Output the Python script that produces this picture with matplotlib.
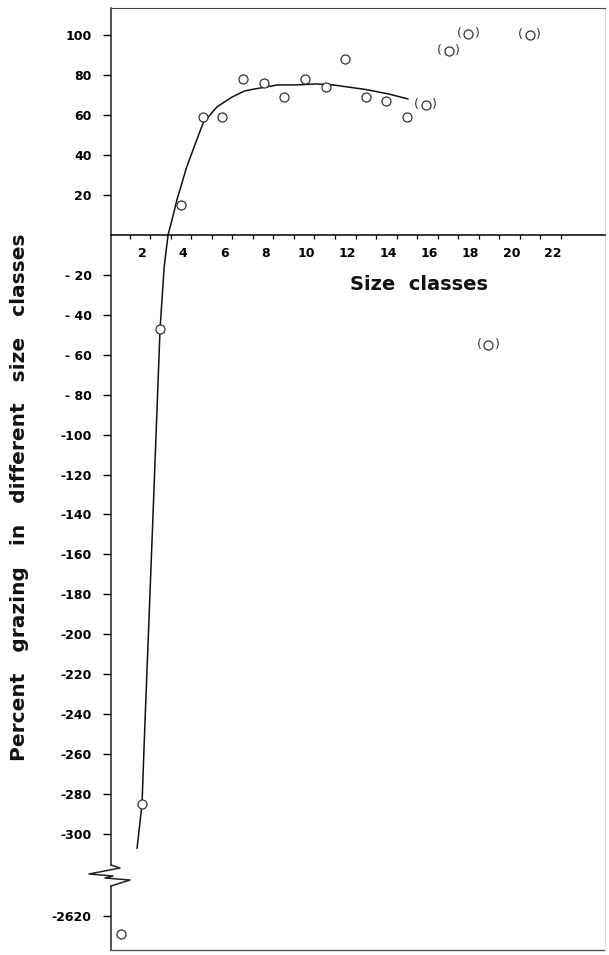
import numpy as np
import matplotlib
matplotlib.use("Agg")
import matplotlib.pyplot as plt
from matplotlib.ticker import FixedLocator, FixedFormatter

plt.rcParams['font.family'] = 'DejaVu Sans'

# observed points (open circles)
size_class = [0.98, 2.0, 2.88, 3.9, 4.98, 5.88, 6.93, 7.94, 8.93, 9.93,
              10.95, 11.88, 12.9, 13.9, 14.93]
grazing = [-2629, -285, -47, 15, 59, 59, 78, 76, 69, 78,
           74, 88, 69, 67, 59]

# points shown in brackets
size_class_b = [15.82, 16.94, 17.88, 18.85, 20.88]
grazing_b = [65, 92, 100.5, -55, 100]

# fitted curve
curve_x = [1.76, 2.0, 2.13, 2.5, 2.88, 3.08, 3.27, 3.5, 3.7, 4.18, 4.67,
           4.98, 5.65, 6.4, 7.0, 7.5, 8.07, 8.6, 9.5, 10.5, 11.3, 12.0,
           12.9, 14.0, 14.95]
curve_y = [-307, -285, -248, -150, -47, -16, 0, 9, 17.5, 34, 47.6,
           56, 64, 69, 72, 73, 74, 75, 75, 75.5, 75, 74,
           72.7, 70.5, 68]

ytick_values = [100, 80, 60, 40, 20, -20, -40, -60, -80, -100, -120, -140,
                -160, -180, -200, -220, -240, -260, -280, -300, -2620]
xtick_values = [2, 4, 6, 8, 10, 12, 14, 16, 18, 20, 22]

# broken y axis: everything below -1000 is shifted up next to -300
GAP = 2279


def fwd(y):
    y = np.asarray(y, dtype=float)
    return np.where(y < -1000, y + GAP, y)


def inv(y):
    y = np.asarray(y, dtype=float)
    return np.where(y < -330, y - GAP, y)


def ylab(v):
    if v > 0:
        return str(v)
    if v > -100:
        return '- ' + str(-v)
    return '-' + str(-v)


fig = plt.figure(figsize=(6.09, 9.55), dpi=100)
ax = fig.add_axes([111 / 609, 5 / 955, 494 / 609, 942 / 955])
ax.set_yscale('function', functions=(fwd, inv))
ax.set_xlim(0.49, 24.55)
ax.set_ylim(-2637, 113.5)

ax.plot(curve_x, curve_y, color='#111111', lw=1.1)
ax.plot(size_class, grazing, 'o', mfc='white', mec='#333333', ms=6.5,
        mew=0.9, clip_on=False)
ax.plot(size_class_b, grazing_b, 'o', mfc='white', mec='#333333', ms=6.5,
        mew=0.9)
for x, y in zip(size_class_b, grazing_b):
    ax.annotate('(', (x, y), xytext=(-6.5, 0), textcoords='offset points',
                ha='center', va='center', fontsize=9, color='#333333')
    ax.annotate(')', (x, y), xytext=(6.5, 0), textcoords='offset points',
                ha='center', va='center', fontsize=9, color='#333333')

# axes
ax.spines['bottom'].set_position(('data', 0))
ax.spines['bottom'].set_linewidth(1.1)
ax.spines['top'].set_color('#444444')
ax.spines['right'].set_color('#dddddd')
ax.spines['left'].set_visible(False)

ax.yaxis.set_major_locator(FixedLocator(ytick_values))
ax.yaxis.set_major_formatter(FixedFormatter([ylab(v) for v in ytick_values]))
ax.yaxis.set_minor_locator(FixedLocator([]))
ax.tick_params(axis='y', direction='out', length=6, width=1, pad=8,
               labelsize=9)

ax.xaxis.set_major_locator(FixedLocator(xtick_values))
ax.xaxis.set_minor_locator(FixedLocator([k + 0.4 for k in range(1, 23)]))
ax.tick_params(axis='x', which='major', length=0, pad=9, labelsize=9)
ax.tick_params(axis='x', which='minor', direction='out', length=3, width=0.9)
for lab in ax.get_xticklabels() + ax.get_yticklabels():
    lab.set_fontweight('bold')

# left axis line with the break mark
W, H = 494.0, 942.0
def fy(py):
    return (950 - py) / H
zig = [(0, 865), (9, 868), (-22, 874), (2, 876), (-6, 878), (19, 880),
       (0, 886)]
ax.plot([0, 0], [fy(865), 1], transform=ax.transAxes, color='#222222',
        lw=1.1, clip_on=False)
ax.plot([p[0] / W for p in zig], [fy(p[1]) for p in zig],
        transform=ax.transAxes, color='#222222', lw=1.1, clip_on=False)
ax.plot([0, 0], [0, fy(886)], transform=ax.transAxes, color='#222222',
        lw=1.1, clip_on=False)
ax.plot([0, 1], [0, 0], transform=ax.transAxes, color='#555555', lw=1,
        clip_on=False)

fig.text(419 / 609, 1 - 284.5 / 955, 'Size  classes', ha='center',
         va='center', fontsize=14, fontweight='bold', color='#111111')
fig.text(20 / 609, 1 - 497 / 955,
         'Percent   grazing   in   different   size   classes', ha='center',
         va='center', rotation=90, fontsize=14.5, fontweight='bold',
         color='#111111')

fig.savefig('out.png', dpi=100)
